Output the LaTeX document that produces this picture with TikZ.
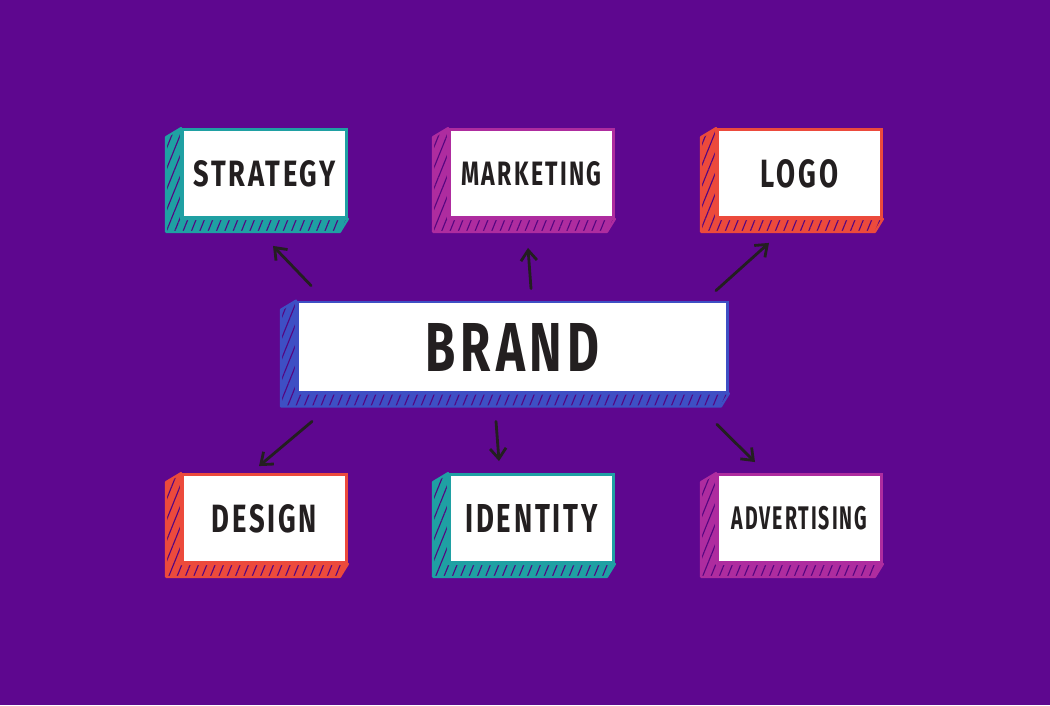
\documentclass[tikz,border=0pt]{standalone}
\usepackage{fontspec}
\usepackage{graphicx}
\setmainfont{Fira Sans}
\usetikzlibrary{calc,arrows.meta,patterns.meta}
\definecolor{bgpurple}{HTML}{5E078F}
\definecolor{boxteal}{HTML}{1FA0A3}
\definecolor{boxpink}{HTML}{AE2C9F}
\definecolor{boxred}{HTML}{EC4A3C}
\definecolor{boxblue}{HTML}{3E4FC4}
\definecolor{ink}{HTML}{231F20}

\newcommand{\lbl}[3]{\resizebox{#1}{#2}{\bfseries\addfontfeature{LetterSpace=10}\color{ink}#3}}
\newcommand{\sidewall}[2]{%
  \path[fill=#2,
    postaction={pattern={Lines[angle=68,distance=5.5pt,line width=0.8pt]},pattern color=bgpurple!90!black},
    postaction={draw=#2,line width=1.6pt,line join=round}]
    (#1.north west) -- ++(-15,9) -- ($(#1.south west)+(-15,13)$)
    -- ($(#1.south east)+(-8,13)$) -- (#1.south east) -- (#1.south west) -- cycle;}

\tikzset{
  box/.style={draw=#1, fill=white, line width=2pt, inner sep=0pt,
    minimum width=4.1cm, minimum height=2.2cm},
  arr/.style={draw=ink, line width=2pt, line cap=round,
    -{Straight Barb[length=2.6mm,width=4mm]}}
}

\begin{document}
\begin{tikzpicture}[x=0.025cm,y=-0.025cm]
  \fill [bgpurple] (0,0) rectangle (1050,705);
  \useasboundingbox (0,0) rectangle (1050,705);

  % boxes
  \node[box=boxteal] (strategy) at (264.5,173.5) {\lbl{3.55cm}{0.65cm}{STRATEGY}};
  \node[box=boxpink] (marketing) at (531.5,173.5) {\lbl{3.5cm}{0.6cm}{MARKETING}};
  \node[box=boxred] (logo) at (799.5,173.5) {\lbl{1.93cm}{0.7cm}{LOGO}};
  \node[box=boxblue, minimum width=10.75cm, minimum height=2.25cm] (brand) at (512.5,347) {\lbl{4.33cm}{1.2cm}{BRAND}};
  \node[box=boxred] (design) at (264.5,518.5) {\lbl{2.63cm}{0.7cm}{DESIGN}};
  \node[box=boxteal] (identity) at (531.5,518.5) {\lbl{3.3cm}{0.7cm}{IDENTITY}};
  \node[box=boxpink] (advertising) at (799.5,518.5) {\lbl{3.38cm}{0.58cm}{ADVERTISING}};

  % 3d sides
  \sidewall{strategy}{boxteal}
  \sidewall{marketing}{boxpink}
  \sidewall{logo}{boxred}
  \sidewall{brand}{boxblue}
  \sidewall{design}{boxred}
  \sidewall{identity}{boxteal}
  \sidewall{advertising}{boxpink}

  % arrows
  \draw[arr] ($(brand.north west)+(15,-15)$) -- ($(strategy.south)+(8.5,27)$);
  \draw[arr] ($(brand.north)+(18.5,-12)$) -- ($(marketing.south)+(-3.5,29)$);
  \draw[arr] ($(brand.north east)+(-13,-10)$) -- ($(logo.south)+(-30.5,24)$);
  \draw[arr] ($(brand.south west)+(16,28)$) -- ($(design.north)+(-5.5,-7)$);
  \draw[arr] ($(brand.south)+(-16.5,28)$) -- ($(identity.north)+(-32.5,-12)$);
  \draw[arr] ($(brand.south east)+(-12,31)$) -- ($(advertising.north)+(-44.5,-11)$);
\end{tikzpicture}
\end{document}
